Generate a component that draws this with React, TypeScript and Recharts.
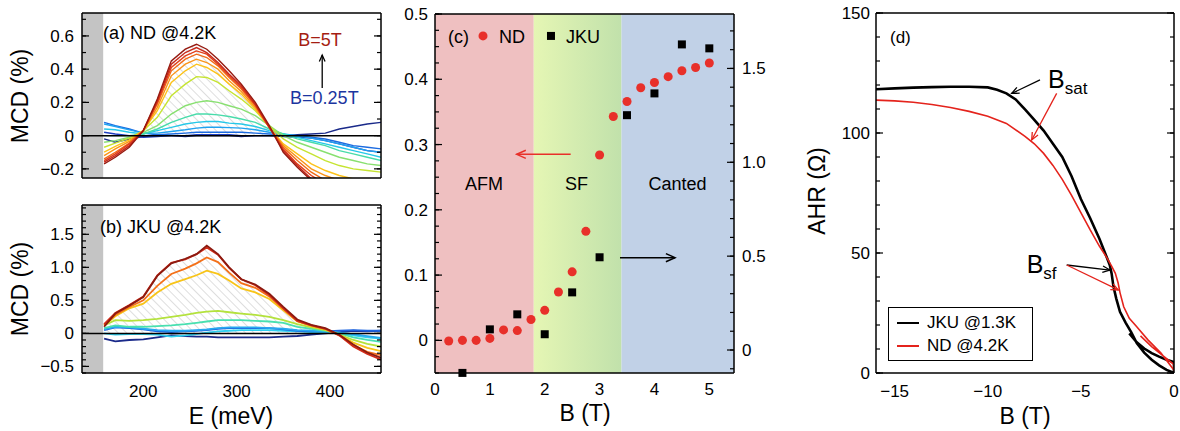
import React from 'react';
import {
  ComposedChart,
  LineChart,
  Line,
  Area,
  Scatter,
  XAxis,
  YAxis,
  ReferenceLine,
  ReferenceArea,
  ReferenceDot,
  Legend,
} from 'recharts';

const FONT = '"Liberation Sans", Arial, Helvetica, sans-serif';

// photon energy grid (meV) of the MCD spectra in (a) and (b)
const energy = [158, 170, 185, 200, 215, 230, 245, 257, 268, 280, 292, 305, 320, 335, 350, 365, 380, 395, 410, 425, 440, 455];

// (a) ND @4.2K, from B=0.25T (nd01) up to B=5T (nd14)
const nd01 = [-0.02, -0.04, -0.02, -0.005, 0, 0, -0.005, 0, 0, 0, 0, -0.005, 0, 0, 0, 0.005, 0.01, 0.015, 0.04, 0.055, 0.07, 0.08];
const nd02 = [0.02, 0.01, 0, -0.01, -0.005, 0, 0, 0.005, 0.005, 0.005, 0.005, 0, 0, 0, -0.005, -0.01, -0.015, -0.03, -0.05, -0.07, -0.09, -0.1];
const nd03 = [0.08, 0.06, 0.04, 0.015, 0.005, 0.01, 0.015, 0.02, 0.02, 0.02, 0.02, 0.02, 0.015, 0.01, 0.005, 0, -0.01, -0.02, -0.04, -0.06, -0.07, -0.08];
const nd04 = [0.07, 0.055, 0.035, 0.015, 0.015, 0.025, 0.035, 0.045, 0.05, 0.05, 0.048, 0.045, 0.035, 0.02, 0.01, 0, -0.015, -0.03, -0.05, -0.07, -0.09, -0.1];
const nd05 = [0.04, 0.035, 0.02, 0.01, 0.03, 0.05, 0.07, 0.08, 0.085, 0.085, 0.075, 0.07, 0.055, 0.03, 0.01, -0.01, -0.03, -0.05, -0.07, -0.09, -0.11, -0.13];
const nd06 = [0, 0, 0, 0.01, 0.04, 0.08, 0.11, 0.13, 0.13, 0.125, 0.115, 0.1, 0.08, 0.04, 0.01, -0.02, -0.04, -0.06, -0.09, -0.11, -0.13, -0.15];
const nd07 = [-0.04, -0.03, -0.01, 0.02, 0.06, 0.13, 0.18, 0.2, 0.21, 0.2, 0.18, 0.16, 0.12, 0.06, 0, -0.04, -0.07, -0.1, -0.13, -0.15, -0.17, -0.18];
const nd08 = [-0.07, -0.045, -0.015, 0.03, 0.11, 0.24, 0.31, 0.355, 0.35, 0.32, 0.27, 0.22, 0.15, 0.06, -0.02, -0.07, -0.11, -0.15, -0.18, -0.2, -0.21, -0.22];
const nd09 = [-0.1, -0.065, -0.025, 0.03, 0.15, 0.32, 0.39, 0.43, 0.41, 0.37, 0.31, 0.25, 0.16, 0.05, -0.05, -0.11, -0.17, -0.21, -0.24, -0.26, -0.28, -0.29];
const nd10 = [-0.12, -0.08, -0.035, 0.03, 0.17, 0.36, 0.43, 0.46, 0.44, 0.4, 0.33, 0.265, 0.17, 0.05, -0.06, -0.13, -0.2, -0.24, -0.27, -0.29, -0.3, -0.3];
const nd11 = [-0.14, -0.1, -0.045, 0.03, 0.19, 0.39, 0.46, 0.49, 0.47, 0.42, 0.35, 0.28, 0.18, 0.05, -0.07, -0.15, -0.22, -0.27, -0.3, -0.3, -0.3, -0.3];
const nd12 = [-0.15, -0.11, -0.05, 0.03, 0.2, 0.41, 0.48, 0.51, 0.49, 0.43, 0.36, 0.29, 0.185, 0.05, -0.08, -0.17, -0.24, -0.29, -0.3, -0.3, -0.3, -0.3];
const nd13 = [-0.16, -0.12, -0.06, 0.03, 0.21, 0.43, 0.5, 0.53, 0.5, 0.44, 0.37, 0.3, 0.19, 0.05, -0.09, -0.18, -0.26, -0.3, -0.3, -0.3, -0.3, -0.3];
const nd14 = [-0.17, -0.13, -0.07, 0.03, 0.22, 0.45, 0.52, 0.55, 0.52, 0.46, 0.39, 0.31, 0.2, 0.06, -0.1, -0.19, -0.27, -0.3, -0.3, -0.3, -0.3, -0.3];
const ndSpectra = [nd01, nd02, nd03, nd04, nd05, nd06, nd07, nd08, nd09, nd10, nd11, nd12, nd13, nd14];
const ndColors = ['#1a2a8a', '#1f3fc0', '#1c6be0', '#20a2f0', '#26c8e8', '#48dcaa', '#88e070', '#c6e432', '#fcc21a', '#fa9418', '#f26a16', '#e2401a', '#c8281a', '#961a10'];

// (b) JKU @4.2K, low field (navy) to high field (dark red)
const jku01 = [-0.08, -0.12, -0.1, -0.09, -0.06, -0.03, -0.04, -0.05, -0.05, -0.06, -0.06, -0.06, -0.06, -0.06, -0.05, -0.04, -0.02, 0, 0.02, 0.04, 0.03, 0.04];
const jku02 = [0, -0.02, -0.01, -0.01, -0.02, -0.05, -0.03, -0.01, 0.01, 0.03, 0.04, 0.05, 0.05, 0.05, 0.04, 0.03, 0.02, 0.01, 0, -0.03, -0.06, -0.08];
const jku03 = [0.05, 0.09, 0.08, 0.06, 0.03, 0.02, 0.03, 0.04, 0.05, 0.07, 0.08, 0.08, 0.08, 0.08, 0.06, 0.04, 0.03, 0.03, 0.04, 0.05, 0.04, 0.04];
const jku04 = [0.06, 0.1, 0.09, 0.07, 0.05, 0.04, 0.04, 0.05, 0.06, 0.08, 0.09, 0.09, 0.09, 0.08, 0.07, 0.05, 0.04, 0.03, 0.01, -0.01, -0.04, -0.07];
const jku05 = [0.08, 0.12, 0.1, 0.1, 0.11, 0.12, 0.14, 0.16, 0.18, 0.2, 0.2, 0.2, 0.19, 0.18, 0.16, 0.1, 0.07, 0.04, 0, -0.06, -0.1, -0.13];
const jku06 = [0.12, 0.2, 0.19, 0.2, 0.22, 0.25, 0.28, 0.31, 0.33, 0.34, 0.32, 0.3, 0.28, 0.25, 0.2, 0.14, 0.09, 0.05, -0.02, -0.1, -0.16, -0.2];
const jku07 = [0.12, 0.26, 0.38, 0.45, 0.62, 0.75, 0.82, 0.88, 0.95, 0.9, 0.8, 0.68, 0.62, 0.52, 0.35, 0.18, 0.11, 0.06, -0.02, -0.14, -0.22, -0.27];
const jku08 = [0.12, 0.28, 0.4, 0.5, 0.72, 0.9, 0.98, 1.06, 1.15, 1.08, 0.92, 0.76, 0.69, 0.56, 0.37, 0.19, 0.12, 0.07, -0.03, -0.18, -0.28, -0.33];
const jku09 = [0.14, 0.31, 0.43, 0.56, 0.88, 1.07, 1.12, 1.2, 1.3, 1.19, 0.99, 0.82, 0.73, 0.58, 0.38, 0.19, 0.12, 0.07, -0.03, -0.2, -0.31, -0.4];
const jku10 = [0.1, 0.3, 0.42, 0.55, 0.87, 1.06, 1.13, 1.2, 1.33, 1.2, 1.0, 0.82, 0.74, 0.6, 0.4, 0.21, 0.13, 0.08, -0.02, -0.17, -0.29, -0.37];
const jkuSpectra = [jku01, jku02, jku03, jku04, jku05, jku06, jku07, jku08, jku09, jku10];
const jkuColors = ['#1a2a8a', '#30d0f0', '#1c64e0', '#28a8f0', '#48e0b0', '#b4e23c', '#f8c418', '#f47018', '#d42c18', '#8c1a10'];

// (c) MCD peak vs field
const ndField = [0.25, 0.5, 0.75, 1, 1.25, 1.5, 1.75, 2, 2.25, 2.5, 2.75, 3, 3.25, 3.5, 3.75, 4, 4.25, 4.5, 4.75, 5];
const ndPeak = [-0.001, 0, 0, 0.003, 0.016, 0.015, 0.032, 0.046, 0.074, 0.105, 0.167, 0.284, 0.343, 0.366, 0.387, 0.395, 0.404, 0.413, 0.418, 0.425];
const jkuField = [0.5, 1, 1.5, 2, 2.5, 3, 3.5, 4, 4.5, 5];
const jkuPeak = [-0.122, 0.11, 0.19, 0.084, 0.307, 0.494, 1.251, 1.367, 1.628, 1.607];

// (d) anomalous Hall resistance
const jkuAhrField = [-16, -15, -14, -13, -12, -11, -10, -9.5, -9, -8.5, -8, -7.5, -7, -6.5, -6, -5.5, -5, -4.5, -4, -3.6, -3.45, -3.35, -3.25, -3.1, -2.9, -2.6, -2.3, -2, -1.6, -1.2, -0.8, -0.4, 0, 0, -0.4, -0.8, -1.2, -1.6, -2, -2.4];
const jkuAhr = [118.2, 118.6, 118.9, 119.1, 119.3, 119.3, 119, 118, 116.5, 114, 109.8, 105.5, 101, 95.5, 90, 82, 72.5, 64.5, 55.8, 48, 45, 41.5, 36, 31, 25.5, 21, 17, 12.5, 8.5, 5.5, 3.2, 1.3, 0, 4.5, 5.5, 6.8, 8.3, 10.2, 12.8, 16.5];
const ndAhrField = [-16, -15, -14, -13, -12, -11, -10, -9, -8, -7.5, -7, -6.5, -6, -5.5, -5, -4.5, -4, -3.6, -3.35, -3.15, -3, -2.9, -2.7, -2.4, -2, -1.4, -0.7, 0, 0, -0.6, -1.2, -1.8];
const ndAhr = [113.7, 113.4, 112.8, 111.9, 110.6, 109, 107, 104, 98.6, 95.5, 91.5, 86.5, 80.7, 74, 66.8, 59.6, 52.8, 48, 44.5, 41.5, 37.5, 33.5, 27.6, 22.8, 19.3, 13.8, 8.3, 1.2, 3.5, 7.2, 11, 15.5];

// tick labels
const eTicks = [200, 300, 400];
const mcdTicksA = [-0.2, 0, 0.2, 0.4, 0.6];
const mcdTicksB = [-0.5, 0, 0.5, 1.0, 1.5];
const fieldTicks = [0, 1, 2, 3, 4, 5];
const peakTicks = [0, 0.1, 0.2, 0.3, 0.4, 0.5];
const peakTicksJku = [0, 0.5, 1.0, 1.5];
const ahrFieldTicks = [-15, -10, -5, 0];
const ahrTicks = [0, 50, 100, 150];

const steps = (from: number, to: number, step: number) =>
  Array.from({ length: Math.round((to - from) / step) + 1 }, (_, i) => +(from + i * step).toFixed(4));

const E_DOMAIN: [number, number] = [134.3, 454.7];
const A_DOMAIN: [number, number] = [-0.255, 0.738];
const B_DOMAIN: [number, number] = [-0.6, 1.944];
const C_X: [number, number] = [0, 5.45];
const C_LEFT: [number, number] = [-0.05, 0.5];
const C_RIGHT: [number, number] = [-0.1225, 1.79];
const D_X: [number, number] = [-16, 0];
const D_Y: [number, number] = [0, 150];

const AXIS_LINE = { stroke: '#000', strokeWidth: 1.5 };
const TICK_LINE = { stroke: '#000', strokeWidth: 1.2 };
const TICK_TEXT = { fontSize: 17, fill: '#000', fontFamily: FONT };

const fmt1 = (v: number) => (v === 0 ? '0' : (v < 0 ? '\u2212' : '') + Math.abs(v).toFixed(1));
const fmtInt = (v: number) => (v < 0 ? '\u2212' : '') + Math.abs(v);

// tick mark only, no label
const noLabel = () => <g />;

type Scale = { domain: [number, number]; major: number[]; minor: number[] };

// inward ticks on all four sides (mirrored, near zero-size axes)
function innerTicks(x: Scale, left: Scale, right: Scale, rightFrame: boolean) {
  const out: React.ReactElement[] = [];
  (['bottom', 'top'] as const).forEach((side) => {
    [x.major, x.minor].forEach((ticks, k) => {
      out.push(
        <XAxis
          key={`x-${side}-${k}`}
          xAxisId={`x-${side}-${k}`}
          orientation={side}
          mirror
          type="number"
          domain={x.domain}
          allowDataOverflow
          ticks={ticks}
          interval={0}
          tick={noLabel}
          tickSize={k === 0 ? 7 : 4}
          tickLine={TICK_LINE}
          axisLine={side === 'top' && k === 0 ? AXIS_LINE : false}
          height={0.01}
        />
      );
    });
  });
  ([['left', left], ['right', right]] as const).forEach(([side, s]) => {
    [s.major, s.minor].forEach((ticks, k) => {
      out.push(
        <YAxis
          key={`y-${side}-${k}`}
          yAxisId={`y-${side}-${k}`}
          orientation={side}
          mirror
          type="number"
          domain={s.domain}
          allowDataOverflow
          ticks={ticks}
          interval={0}
          tick={noLabel}
          tickSize={k === 0 ? 7 : 4}
          tickLine={TICK_LINE}
          axisLine={side === 'right' && k === 0 && rightFrame ? AXIS_LINE : false}
          width={0.01}
        />
      );
    });
  });
  return out;
}

const note = (text: string, size: number, color: string, anchor: 'start' | 'middle' | 'end' = 'start', sub?: string) =>
  (p: any) => (
    <text x={p.cx} y={p.cy} fontSize={size} fill={color} fontFamily={FONT} textAnchor={anchor}>
      {text}
      {sub && (
        <tspan fontSize={size * 0.68} dy={size * 0.22}>
          {sub}
        </tspan>
      )}
    </text>
  );

const arrow = (color: string, width = 1.4, head = 9) => (p: any) => {
  const { x1, y1, x2, y2 } = p;
  const a = Math.atan2(y2 - y1, x2 - x1);
  const w = 0.42;
  const h1 = `${x2 - head * Math.cos(a - w)},${y2 - head * Math.sin(a - w)}`;
  const h2 = `${x2 - head * Math.cos(a + w)},${y2 - head * Math.sin(a + w)}`;
  return (
    <g>
      <line x1={x1} y1={y1} x2={x2} y2={y2} stroke={color} strokeWidth={width} />
      <polyline points={`${h1} ${x2},${y2} ${h2}`} fill="none" stroke={color} strokeWidth={width} />
    </g>
  );
};

const square = (p: any) => <rect x={p.cx - 4} y={p.cy - 4} width={8} height={8} fill="#000" />;

const rowsA = energy.map((E, i) => {
  const row: Record<string, number> = { E, hatch: Math.max(0, nd14[i]) };
  ndSpectra.forEach((c, k) => (row[`c${k}`] = c[i]));
  return row;
});
const rowsB = energy.map((E, i) => {
  const row: Record<string, number> = { E, hatch: Math.max(0, jku10[i]) };
  jkuSpectra.forEach((c, k) => (row[`c${k}`] = c[i]));
  return row;
});
const ndPeakData = ndField.map((B, i) => ({ B, v: ndPeak[i] }));
const jkuPeakData = jkuField.map((B, i) => ({ B, v: jkuPeak[i] }));
const jkuAhrData = jkuAhrField.map((B, i) => ({ B, R: jkuAhr[i] }));
const ndAhrData = ndAhrField.map((B, i) => ({ B, R: ndAhr[i] }));

const eScale: Scale = { domain: E_DOMAIN, major: eTicks, minor: steps(140, 450, 10) };

const hatchDef = (id: string) => (
  <defs>
    <pattern id={id} width={6} height={6} patternUnits="userSpaceOnUse" patternTransform="rotate(-45)">
      <line x1={0} y1={0} x2={0} y2={6} stroke="#a0a0a0" strokeWidth={0.7} />
    </pattern>
  </defs>
);

const PanelA = () => {
  const yScale: Scale = { domain: A_DOMAIN, major: mcdTicksA, minor: steps(-0.2, 0.7, 0.1) };
  return (
    <ComposedChart width={400} height={190} data={rowsA} margin={{ top: 13, right: 19, bottom: 0, left: 0 }}>
      {hatchDef('hatchA')}
      <ReferenceArea xAxisId="x" yAxisId="y" x1={134.3} x2={157} fill="#c4c4c4" fillOpacity={1} stroke="none" />
      <XAxis xAxisId="x" dataKey="E" type="number" domain={E_DOMAIN} allowDataOverflow ticks={eTicks} height={12} tick={false} tickLine={false} axisLine={AXIS_LINE} />
      <YAxis yAxisId="y" type="number" domain={A_DOMAIN} allowDataOverflow ticks={mcdTicksA} interval={0} width={82} tickSize={0} tickMargin={8} tickLine={false} tick={TICK_TEXT} tickFormatter={fmt1} axisLine={AXIS_LINE} />
      {innerTicks(eScale, yScale, yScale, true)}
      <Area xAxisId="x" yAxisId="y" dataKey="hatch" type="linear" baseValue={0} fill="url(#hatchA)" fillOpacity={1} stroke="none" isAnimationActive={false} />
      {ndSpectra.map((_, k) => (
        <Line key={k} xAxisId="x" yAxisId="y" dataKey={`c${k}`} type="linear" stroke={ndColors[k]} strokeWidth={1.4} dot={false} isAnimationActive={false} />
      ))}
      <ReferenceLine xAxisId="x" yAxisId="y" y={0} stroke="#000" strokeWidth={1.5} />
      <ReferenceDot xAxisId="x" yAxisId="y" x={156.8} y={0.583} r={0} shape={note('(a) ND @4.2K', 18, '#000')} />
      <ReferenceDot xAxisId="x" yAxisId="y" x={389.4} y={0.537} r={0} shape={note('B=5T', 18, '#a51d12', 'middle')} />
      <ReferenceDot xAxisId="x" yAxisId="y" x={394} y={0.188} r={0} shape={note('B=0.25T', 18, '#1c35a0', 'middle')} />
      <ReferenceLine xAxisId="x" yAxisId="y" segment={[{ x: 391.7, y: 0.287 }, { x: 391.7, y: 0.485 }]} shape={arrow('#000', 1.3, 7)} />
    </ComposedChart>
  );
};

const PanelB = () => {
  const yScale: Scale = { domain: B_DOMAIN, major: mcdTicksB, minor: steps(-0.6, 1.9, 0.1) };
  return (
    <ComposedChart width={400} height={241} data={rowsB} margin={{ top: 15, right: 19, bottom: 0, left: 0 }}>
      {hatchDef('hatchB')}
      <ReferenceArea xAxisId="x" yAxisId="y" x1={134.3} x2={157} fill="#c4c4c4" fillOpacity={1} stroke="none" />
      <XAxis xAxisId="x" dataKey="E" type="number" domain={E_DOMAIN} allowDataOverflow ticks={eTicks} interval={0} height={58} tickSize={0} tickMargin={12} tickLine={false} tick={TICK_TEXT} axisLine={AXIS_LINE} />
      <YAxis yAxisId="y" type="number" domain={B_DOMAIN} allowDataOverflow ticks={mcdTicksB} interval={0} width={82} tickSize={0} tickMargin={8} tickLine={false} tick={TICK_TEXT} tickFormatter={fmt1} axisLine={AXIS_LINE} />
      {innerTicks(eScale, yScale, yScale, true)}
      <Area xAxisId="x" yAxisId="y" dataKey="hatch" type="linear" baseValue={0} fill="url(#hatchB)" fillOpacity={1} stroke="none" isAnimationActive={false} />
      {jkuSpectra.map((_, k) => (
        <Line key={k} xAxisId="x" yAxisId="y" dataKey={`c${k}`} type="linear" stroke={jkuColors[k]} strokeWidth={1.8} dot={false} isAnimationActive={false} />
      ))}
      <ReferenceLine xAxisId="x" yAxisId="y" y={0} stroke="#000" strokeWidth={1.5} />
      <ReferenceDot xAxisId="x" yAxisId="y" x={153.6} y={1.52} r={0} shape={note('(b) JKU @4.2K', 18, '#000')} />
    </ComposedChart>
  );
};

const PanelC = () => {
  const xScale: Scale = { domain: C_X, major: fieldTicks, minor: steps(0, 5, 0.5) };
  const lScale: Scale = { domain: C_LEFT, major: peakTicks, minor: steps(-0.05, 0.5, 0.025) };
  const rScale: Scale = { domain: C_RIGHT, major: peakTicksJku, minor: steps(-0.1, 1.7, 0.1) };
  return (
    <ComposedChart width={380} height={431} margin={{ top: 14, right: 0, bottom: 0, left: 0 }}>
      <defs>
        <linearGradient id="sfGrad" x1="0" y1="0" x2="1" y2="0">
          <stop offset="0" stopColor="#e5f6b4" />
          <stop offset="1" stopColor="#c1e1ab" />
        </linearGradient>
      </defs>
      <ReferenceArea xAxisId="x" yAxisId="yl" x1={0} x2={1.8} fill="#efc0c1" fillOpacity={1} stroke="none" />
      <ReferenceArea xAxisId="x" yAxisId="yl" x1={1.8} x2={3.4} fill="url(#sfGrad)" fillOpacity={1} stroke="none" />
      <ReferenceArea xAxisId="x" yAxisId="yl" x1={3.4} x2={5.45} fill="#c1d1e7" fillOpacity={1} stroke="none" />
      <XAxis xAxisId="x" dataKey="B" type="number" domain={C_X} ticks={fieldTicks} interval={0} height={58} tickSize={0} tickMargin={10} tickLine={false} tick={TICK_TEXT} tickFormatter={fmtInt} axisLine={AXIS_LINE} />
      <YAxis yAxisId="yl" dataKey="v" type="number" domain={C_LEFT} ticks={peakTicks} interval={0} width={35} tickSize={0} tickMargin={7} tickLine={false} tick={TICK_TEXT} tickFormatter={fmt1} axisLine={AXIS_LINE} />
      <YAxis yAxisId="yr" dataKey="v" orientation="right" type="number" domain={C_RIGHT} ticks={peakTicksJku} interval={0} width={46} tickSize={0} tickMargin={8} tickLine={false} tick={TICK_TEXT} tickFormatter={fmt1} axisLine={AXIS_LINE} />
      {innerTicks(xScale, lScale, rScale, false)}
      <ReferenceLine xAxisId="x" yAxisId="yl" segment={[{ x: 2.473, y: 0.285 }, { x: 1.489, y: 0.285 }]} shape={arrow('#e8302a', 1.5, 10)} />
      <ReferenceLine xAxisId="x" yAxisId="yl" segment={[{ x: 3.372, y: 0.1267 }, { x: 4.375, y: 0.1267 }]} shape={arrow('#000', 1.5, 10)} />
      <Scatter name="ND" data={ndPeakData} xAxisId="x" yAxisId="yl" fill="#e8302a" shape="circle" isAnimationActive={false} />
      <Scatter name="JKU" data={jkuPeakData} xAxisId="x" yAxisId="yr" fill="#000" shape="square" isAnimationActive={false} />
      <ReferenceDot xAxisId="x" yAxisId="yl" x={0.237} y={0.456} r={0} shape={note('(c)', 18, '#000')} />
      <ReferenceDot xAxisId="x" yAxisId="yl" x={0.875} y={0.4664} r={4.5} fill="#e8302a" stroke="none" />
      <ReferenceDot xAxisId="x" yAxisId="yl" x={1.167} y={0.456} r={0} shape={note('ND', 18, '#000')} />
      <ReferenceDot xAxisId="x" yAxisId="yl" x={2.114} y={0.4664} r={0} shape={square} />
      <ReferenceDot xAxisId="x" yAxisId="yl" x={2.388} y={0.456} r={0} shape={note('JKU', 18, '#000')} />
      <ReferenceDot xAxisId="x" yAxisId="yl" x={0.893} y={0.2304} r={0} shape={note('AFM', 18, '#000', 'middle')} />
      <ReferenceDot xAxisId="x" yAxisId="yl" x={2.58} y={0.2304} r={0} shape={note('SF', 18, '#000', 'middle')} />
      <ReferenceDot xAxisId="x" yAxisId="yl" x={4.42} y={0.2304} r={0} shape={note('Canted', 18, '#000', 'middle')} />
    </ComposedChart>
  );
};

const ahrLegend = () => (
  <div style={{ border: '1.5px solid #000', background: '#fff', padding: '3px 6px 3px 7px', fontFamily: FONT, fontSize: 17, lineHeight: '23px', boxSizing: 'border-box', width: 145 }}>
    {[
      ['JKU @1.3K', '#000'],
      ['ND @4.2K', '#e4231c'],
    ].map(([t, c]) => (
      <div key={t} style={{ display: 'flex', alignItems: 'center', color: '#000' }}>
        <svg width={24} height={10} style={{ marginRight: 7 }}>
          <line x1={1} y1={5} x2={23} y2={5} stroke={c} strokeWidth={2} />
        </svg>
        <span>{t}</span>
      </div>
    ))}
  </div>
);

const PanelD = () => {
  const xScale: Scale = { domain: D_X, major: ahrFieldTicks, minor: steps(-16, 0, 1) };
  const yScale: Scale = { domain: D_Y, major: ahrTicks, minor: steps(0, 150, 10) };
  return (
    <LineChart width={400} height={431} margin={{ top: 13, right: 6, bottom: 0, left: 0 }}>
      <XAxis xAxisId="x" dataKey="B" type="number" domain={D_X} allowDataOverflow ticks={ahrFieldTicks} interval={0} height={58} tickSize={0} tickMargin={12} tickLine={false} tick={TICK_TEXT} tickFormatter={fmtInt} axisLine={AXIS_LINE} />
      <YAxis yAxisId="y" type="number" domain={D_Y} allowDataOverflow ticks={ahrTicks} interval={0} width={96} tickSize={0} tickMargin={6} tickLine={false} tick={TICK_TEXT} axisLine={AXIS_LINE} />
      {innerTicks(xScale, yScale, yScale, true)}
      <Line name="JKU @1.3K" data={jkuAhrData} xAxisId="x" yAxisId="y" dataKey="R" type="linear" stroke="#000" strokeWidth={2.6} dot={false} isAnimationActive={false} />
      <Line name="ND @4.2K" data={ndAhrData} xAxisId="x" yAxisId="y" dataKey="R" type="linear" stroke="#e4231c" strokeWidth={1.6} dot={false} isAnimationActive={false} />
      <ReferenceDot xAxisId="x" yAxisId="y" x={-15.25} y={137.5} r={0} shape={note('(d)', 17, '#000')} />
      <ReferenceDot xAxisId="x" yAxisId="y" x={-6.765} y={118.75} r={0} shape={note('B', 25, '#000', 'start', 'sat')} />
      <ReferenceDot xAxisId="x" yAxisId="y" x={-7.91} y={41.5} r={0} shape={note('B', 25, '#000', 'start', 'sf')} />
      <ReferenceLine xAxisId="x" yAxisId="y" segment={[{ x: -7.195, y: 122.1 }, { x: -8.714, y: 116.5 }]} shape={arrow('#000', 1.3, 8)} />
      <ReferenceLine xAxisId="x" yAxisId="y" segment={[{ x: -6.3, y: 116.5 }, { x: -7.64, y: 97.1 }]} shape={arrow('#e4231c', 1.3, 8)} />
      <ReferenceLine xAxisId="x" yAxisId="y" segment={[{ x: -5.76, y: 45 }, { x: -3.44, y: 42.9 }]} shape={arrow('#000', 1.3, 8)} />
      <ReferenceLine xAxisId="x" yAxisId="y" segment={[{ x: -5.76, y: 45 }, { x: -2.99, y: 34.6 }]} shape={arrow('#e4231c', 1.3, 8)} />
      <Legend layout="horizontal" verticalAlign="middle" align="center" wrapperStyle={{ left: 108, top: 307, width: 145 }} content={ahrLegend} />
    </LineChart>
  );
};

export default function App() {
  return (
    <div style={{ position: 'absolute', left: 0, top: 0, width: 1180, height: 431, background: '#fff', overflow: 'hidden' }}>
      <div style={{ position: 'absolute', left: 0, top: 0 }}>
        <PanelA />
      </div>
      <div style={{ position: 'absolute', left: 0, top: 190 }}>
        <PanelB />
      </div>
      <div style={{ position: 'absolute', left: 400, top: 0 }}>
        <PanelC />
      </div>
      <div style={{ position: 'absolute', left: 780, top: 0 }}>
        <PanelD />
      </div>
      <svg width={1180} height={431} style={{ position: 'absolute', left: 0, top: 0, pointerEvents: 'none' }} fontFamily={FONT} fontSize={23} fill="#000">
        <text transform="translate(20,96) rotate(-90)" textAnchor="middle" dominantBaseline="central">MCD (%)</text>
        <text transform="translate(20,289) rotate(-90)" textAnchor="middle" dominantBaseline="central">MCD (%)</text>
        <text x={231} y={424} textAnchor="middle">E (meV)</text>
        <text x={585} y={421} textAnchor="middle">B (T)</text>
        <text x={1025} y={424} textAnchor="middle">B (T)</text>
        <text transform="translate(817,191) rotate(-90)" textAnchor="middle" dominantBaseline="central">AHR (Ω)</text>
      </svg>
    </div>
  );
}
